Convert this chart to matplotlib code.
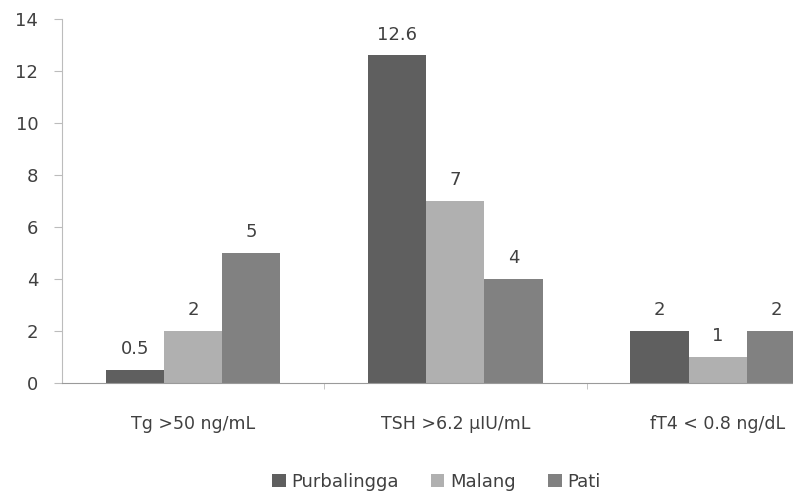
import matplotlib.pyplot as plt
import numpy as np

categories = ['Tg >50 ng/mL', 'TSH >6.2 \u00b5IU/mL', 'fT4 < 0.8 ng/dL']
series = ['Purbalingga', 'Malang', 'Pati']
purbalingga = [0.5, 12.6, 2]
malang = [2, 7, 1]
pati = [5, 4, 2]
colors = ['#5f5f5f', '#b0b0b0', '#818181']

plt.rcParams['font.family'] = ['DejaVu Sans']

fig = plt.figure(figsize=(7.93, 4.97), dpi=100)
ax = fig.add_axes([0.078, 0.229, 0.922, 0.733])

x = np.arange(len(categories))
w = 0.222
for i, (name, vals) in enumerate(zip(series, [purbalingga, malang, pati])):
    bars = ax.bar(x + (i - 1) * w, vals, w, color=colors[i], label=name)
    for b, v in zip(bars, vals):
        ax.text(b.get_x() + b.get_width() / 2, v + 0.45, f'{v:g}',
                ha='center', va='bottom', fontsize=13, color='#404040')

ax.set_xlim(-0.5, 2.287)
ax.set_ylim(0, 14)
ax.set_yticks(range(0, 15, 2))
ax.set_xticks(x)
ax.set_xticklabels(categories, fontsize=12.5, color='#404040')
ax.tick_params(axis='x', length=0, pad=23)
ax.set_xticks([0.5, 1.5], minor=True)
ax.tick_params(axis='x', which='minor', length=4, color='#bcbcbc', direction='out')
ax.tick_params(axis='y', labelsize=13, labelcolor='#404040', color='#bcbcbc',
               length=6, pad=11)
for s in ['top', 'right']:
    ax.spines[s].set_visible(False)
ax.spines['left'].set_color('#bcbcbc')
ax.spines['bottom'].set_color('#9a9a9a')

fig.legend(loc='center', bbox_to_anchor=(0.55, 0.03), ncol=3, frameon=False,
           fontsize=13, handlelength=0.75, handleheight=0.75, handletextpad=0.3,
           columnspacing=1.8, labelcolor='#404040')

fig.savefig('out.png', dpi=100)
